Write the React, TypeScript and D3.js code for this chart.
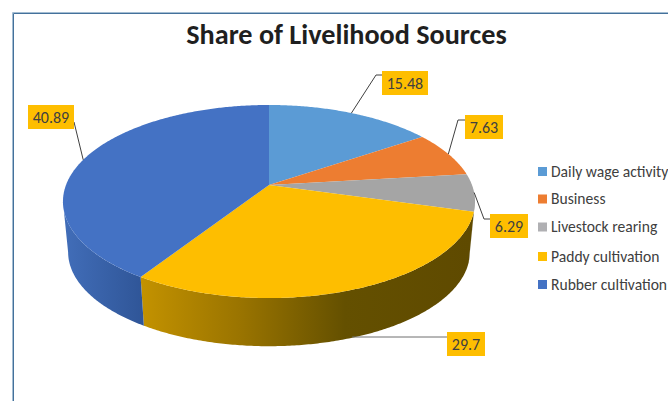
import React, { useMemo } from "react";
import * as d3 from "d3";

const categories = ["Daily wage activity", "Business", "Livestock rearing", "Paddy cultivation", "Rubber cultivation"];
const shares = [15.48, 7.63, 6.29, 29.7, 40.89];
const valueLabels = ["15.48", "7.63", "6.29", "29.7", "40.89"];
const faceColors = ["#5b9bd5", "#ed7d31", "#a5a5a5", "#febe00", "#4472c4"];
const legendColors = ["#5b9bd5", "#ed7d31", "#b0b0b3", "#febe00", "#4472c4"];
const legendRows = [171.5, 199, 227, 256.5, 284.5];

// Yellow callout boxes beside the pie
const labelBoxes = [
  { x: 382, y: 71, w: 46 },
  { x: 465, y: 115, w: 38 },
  { x: 490, y: 214, w: 38 },
  { x: 447, y: 332, w: 38 },
  { x: 28, y: 105, w: 46 },
];
const labelHeight = 24;

// Tilted disc: the apex sits above the centre of the rim ellipse because of perspective
const apexX = 269;
const apexY = 185;
const perspective = 0.171;
const scaleX = 203;
const scaleY = 93.7;
// The lower rim is slightly smaller and sits one wall-height below
const baseScale = 0.975;
const baseApexY = 236;
const silhouette = (Math.asin(0.985) * 180) / Math.PI; // rim extreme, measured from the side
const frontFrom = ((180 - silhouette) * Math.PI) / 180;
const frontTo = ((180 + silhouette) * Math.PI) / 180;

type Pt = [number, number];

function project(angle: number, scale = 1, cy = apexY): Pt {
  const X = Math.sin(angle);
  const Y = -Math.cos(angle);
  const w = 1 - perspective * Y;
  return [apexX + (scale * scaleX * X) / w, cy + (scale * scaleY * Y) / w];
}

function rimPoints(a0: number, a1: number, scale = 1, cy = apexY): Pt[] {
  const n = Math.max(2, Math.ceil(Math.abs(a1 - a0) / 0.01));
  return d3.range(n + 1).map((i) => project(a0 + ((a1 - a0) * i) / n, scale, cy));
}

const path = d3.line<Pt>();

export default function App() {
  const slices = useMemo(
    () => d3.pie<number>().sort(null).value((d) => d)(shares),
    []
  );

  const walls = slices
    .map((s, i) => ({ i, a0: Math.max(s.startAngle, frontFrom), a1: Math.min(s.endAngle, frontTo) }))
    .filter((w) => w.a1 > w.a0);

  const mid = (i: number) => (slices[i].startAngle + slices[i].endAngle) / 2;
  const topAnchor = (i: number) => project(mid(i));
  const paddyAnchor = project(mid(3), baseScale, baseApexY);

  // Leader polylines run from the rim to the edge of each label box
  const leaders: Pt[][] = [
    [topAnchor(0), [376, 75], [382, 75]],
    [topAnchor(1), [458, 120], [465, 120]],
    [topAnchor(2), [484, 219], [490, 219]],
    [[paddyAnchor[0], 337], [447, 337]],
    [topAnchor(4), [74, 122]],
  ];

  return (
    <svg
      width={668}
      height={401}
      style={{ position: "absolute", left: 0, top: 0, background: "#fff" }}
      fontFamily="Carlito, Calibri, Lato, sans-serif"
    >
      <defs>
        <linearGradient id="wall-paddy" gradientUnits="userSpaceOnUse" x1={141} x2={470} y1={0} y2={0}>
          <stop offset="0" stopColor="#c39200" />
          <stop offset="0.3" stopColor="#9a7400" />
          <stop offset="0.62" stopColor="#645000" />
          <stop offset="1" stopColor="#5f4a00" />
        </linearGradient>
        <linearGradient id="wall-rubber" gradientUnits="userSpaceOnUse" x1={66} x2={144} y1={0} y2={0}>
          <stop offset="0" stopColor="#416db8" />
          <stop offset="1" stopColor="#2f5597" />
        </linearGradient>
      </defs>

      {/* Chart frame, cut off by the page on the right and bottom */}
      <path d="M12.5 401V12.5H668" fill="none" stroke="#a4bdd2" strokeWidth={1} />
      <path d="M13.5 401V13.5H668" fill="none" stroke="#44719b" strokeWidth={1} />

      <text x={346.5} y={44} textAnchor="middle" fontSize={28.2} fontWeight={700} fill="#1f1f1f">
        Share of Livelihood Sources
      </text>

      {walls.map(({ i, a0, a1 }) => (
        <path
          key={categories[i]}
          d={
            path([
              ...rimPoints(a0, a1),
              ...rimPoints(a1, a0, baseScale, baseApexY),
            ])! + "Z"
          }
          fill={i === 3 ? "url(#wall-paddy)" : i === 4 ? "url(#wall-rubber)" : "#7c7c7c"}
        />
      ))}

      {slices.map((s, i) => (
        <path
          key={categories[i]}
          d={path([[apexX, apexY], ...rimPoints(s.startAngle, s.endAngle)])! + "Z"}
          fill={faceColors[i]}
        />
      ))}

      {leaders.map((pts, i) => (
        <path
          key={valueLabels[i]}
          d={path(pts)!}
          fill="none"
          stroke={i === 3 ? "#6f6f6f" : "#404040"}
          strokeWidth={1}
        />
      ))}

      {labelBoxes.map((b, i) => (
        <g key={valueLabels[i]}>
          <rect x={b.x} y={b.y} width={b.w} height={labelHeight} fill="#febe00" />
          <text
            x={b.x + b.w / 2}
            y={b.y + 17.5}
            textAnchor="middle"
            fontSize={16}
            fill="#404040"
          >
            {valueLabels[i]}
          </text>
        </g>
      ))}

      {categories.map((c, i) => (
        <g key={c}>
          <rect x={538} y={legendRows[i] - 4.5} width={9} height={9} fill={legendColors[i]} />
          <text x={551} y={legendRows[i] + 5} fontSize={15.6} fill="#404040">
            {c}
          </text>
        </g>
      ))}
    </svg>
  );
}
